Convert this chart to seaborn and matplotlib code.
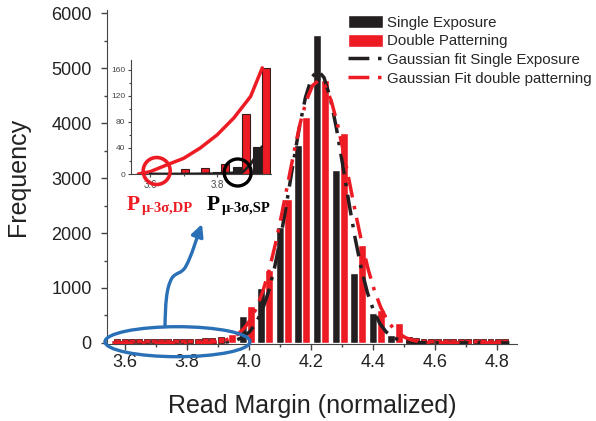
import numpy as np
import pandas as pd
import seaborn as sns
import matplotlib.pyplot as plt
from matplotlib.patches import Patch, Ellipse, FancyArrowPatch
from matplotlib.lines import Line2D
from matplotlib.path import Path
from matplotlib.transforms import Affine2D
from matplotlib.ticker import MultipleLocator

# Histogram bars (black = single exposure, red = double patterning)
se_x = [3.92, 3.98, 4.04, 4.10, 4.16, 4.22, 4.28, 4.34, 4.40, 4.46, 4.52]
se_n = [42, 490, 1000, 2110, 3600, 5600, 3150, 1270, 545, 150, 20]
dp_x = [3.945, 4.005, 4.065, 4.125, 4.185, 4.245, 4.305, 4.365, 4.425, 4.485]
dp_n = [170, 670, 1330, 2620, 4110, 4780, 3820, 1780, 600, 370]

# small red counts lying along the baseline
tail_x = [3.575, 3.599, 3.622, 3.646, 3.670, 3.693, 3.717, 3.740, 3.764, 3.788,
          3.811, 3.835, 3.858, 3.882, 3.910,
          4.515, 4.539, 4.563, 4.587, 4.611, 4.635, 4.659, 4.683, 4.707, 4.731,
          4.755, 4.779, 4.803, 4.827]
tail_n = [80, 80, 80, 80, 80, 80, 80, 80, 80, 80,
          80, 80, 85, 95, 115,
          110, 85, 80, 80, 80, 80, 80, 80, 80, 80,
          80, 80, 80, 80]

# Gaussian fits
se_fit_x = [3.56, 3.82, 3.862, 3.902, 3.922, 3.942, 3.962, 3.982, 4.002, 4.022,
            4.042, 4.062, 4.082, 4.102, 4.122, 4.142, 4.162, 4.182, 4.202, 4.222,
            4.242, 4.262, 4.282, 4.302, 4.322, 4.342, 4.362, 4.382, 4.402, 4.422,
            4.442, 4.462, 4.482, 4.502, 4.522, 4.542, 4.582, 4.84]
se_fit_y = [0, 0, 1, 6, 13, 28, 57, 110, 203, 353,
            584, 915, 1358, 1917, 2563, 3250, 3910, 4465, 4830, 4960,
            4830, 4465, 3910, 3250, 2563, 1917, 1358, 915, 584, 353,
            203, 110, 57, 28, 13, 6, 1, 0]
dp_fit_x = [3.56, 3.785, 3.845, 3.885, 3.905, 3.925, 3.945, 3.965, 3.985, 4.005,
            4.025, 4.045, 4.065, 4.085, 4.105, 4.125, 4.145, 4.165, 4.185, 4.205,
            4.225, 4.245, 4.265, 4.285, 4.305, 4.325, 4.345, 4.365, 4.385, 4.405,
            4.425, 4.445, 4.465, 4.485, 4.505, 4.525, 4.545, 4.565, 4.605, 4.665, 4.84]
dp_fit_y = [0, 0, 3, 15, 29, 53, 95, 163, 268, 425,
            647, 945, 1328, 1794, 2327, 2899, 3470, 3995, 4412, 4685,
            4780, 4685, 4412, 3995, 3470, 2899, 2327, 1794, 1328, 945,
            647, 425, 268, 163, 95, 53, 29, 15, 3, 0, 0]

# Inset: zoom on the left tail
ins_se_x = [3.62, 3.68, 3.74, 3.80, 3.86, 3.92]
ins_se_n = [1, 2, 2, 3, 11, 42]
ins_dp_x = [3.645, 3.705, 3.765, 3.825, 3.885, 3.945]
ins_dp_n = [2, 8, 9, 15, 92, 162]
ins_dpfit_x = [3.565, 3.60, 3.65, 3.70, 3.75, 3.80, 3.85, 3.90, 3.935]
ins_dpfit_y = [0, 3.5, 14, 24, 40, 60, 86, 119, 163]
ins_sefit_x = [3.60, 3.70, 3.80, 3.86, 3.878, 3.90, 3.934]
ins_sefit_y = [0, 0, 0.5, 2, 3.5, 15, 42]

labels = ['Single Exposure', 'Double Patterning',
          'Gaussian fit Single Exposure', 'Gaussian Fit double patterning']

BLACK = '#231f20'
RED = '#ed1c24'
BLUE = '#2a70b6'
DASH = (0, (6, 2.5, 1, 2.5))

sns.set_style('ticks')
plt.rcParams['font.family'] = ['Liberation Sans', 'DejaVu Sans']
plt.rcParams['axes.edgecolor'] = '#444444'
plt.rcParams['xtick.color'] = '#444444'
plt.rcParams['ytick.color'] = '#444444'

fig = plt.figure(figsize=(5.96, 4.21), dpi=100)
ax = fig.add_axes([107 / 596, 77 / 421, 410 / 596, 334 / 421])

ax.bar(se_x, se_n, width=0.027, color=BLACK, zorder=2)
ax.bar(dp_x, dp_n, width=0.026, color=RED, zorder=2)
ax.bar(tail_x, tail_n, width=0.019, color=RED, edgecolor='#5b1a1a',
       linewidth=0.6, zorder=2)

sns.lineplot(x=se_fit_x, y=se_fit_y, ax=ax, color=BLACK, lw=2.5, linestyle=DASH,
             estimator=None, sort=False, legend=False, zorder=4)
sns.lineplot(x=dp_fit_x, y=dp_fit_y, ax=ax, color=RED, lw=2.5, linestyle=DASH,
             estimator=None, sort=False, legend=False, zorder=4)

ax.set_xlim(3.542, 4.8645)
ax.set_ylim(-20, 6060)
ax.xaxis.set_major_locator(MultipleLocator(0.2))
ax.xaxis.set_minor_locator(MultipleLocator(0.1))
ax.yaxis.set_major_locator(MultipleLocator(1000))
ax.yaxis.set_minor_locator(MultipleLocator(500))
ax.xaxis.set_major_formatter(plt.FuncFormatter(lambda v, p: f'{v:.1f}'))
ax.tick_params(which='major', length=4, width=1, labelsize=13, labelcolor='#222222')
ax.tick_params(axis='y', which='major', pad=7)
ax.tick_params(which='minor', length=2.5, width=1)
sns.despine(ax=ax)
ax.set_xlabel('Read Margin (normalized)', fontsize=18, color='#222222', labelpad=16)
ax.set_ylabel('Frequency', fontsize=18, color='#222222', labelpad=15)

# legend
handles = [Patch(facecolor=BLACK), Patch(facecolor=RED),
           Line2D([], [], color=BLACK, lw=2.5, ls=DASH),
           Line2D([], [], color=RED, lw=2.5, ls=DASH)]
fig.legend(handles, labels, loc='upper left', bbox_to_anchor=(348 / 596, 1 - 15 / 421),
           frameon=False, fontsize=10.8, handlelength=2.3, handleheight=0.97,
           handletextpad=0.33, labelspacing=0.27, borderpad=0, borderaxespad=0)

# inset
axi = fig.add_axes([131 / 596, 247 / 421, 140 / 596, 114 / 421])
axi.bar(ins_se_x, ins_se_n, width=0.024, color=BLACK, edgecolor=BLACK, lw=0.8, zorder=2)
axi.bar(ins_dp_x, ins_dp_n, width=0.024, color=RED, edgecolor='#3a1a1a', lw=0.8, zorder=2)
sns.lineplot(x=ins_dpfit_x, y=ins_dpfit_y, ax=axi, color=RED, lw=2.5,
             estimator=None, sort=False, legend=False, zorder=3)
sns.lineplot(x=ins_sefit_x, y=ins_sefit_y, ax=axi, color=BLACK, lw=2,
             estimator=None, sort=False, legend=False, zorder=3)
axi.set_xlim(3.543, 3.961)
axi.set_ylim(0, 175)
axi.set_facecolor('none')
axi.xaxis.set_major_locator(MultipleLocator(0.2))
axi.xaxis.set_minor_locator(MultipleLocator(0.1))
axi.yaxis.set_major_locator(MultipleLocator(40))
axi.yaxis.set_minor_locator(MultipleLocator(20))
axi.xaxis.set_major_formatter(plt.FuncFormatter(lambda v, p: f'{v:.1f}'))
axi.tick_params(which='major', length=2.5, width=0.8, labelsize=7, pad=1.5)
axi.tick_params(axis='y', which='major', labelsize=6)
axi.tick_params(which='minor', length=1.5, width=0.8)
sns.despine(ax=axi)

# annotations in pixel coordinates (y from the top)
px = Affine2D().scale(1 / 596, -1 / 421).translate(0, 1) + fig.transFigure
fig.add_artist(Ellipse((156.7, 171), 27, 27, transform=px, fill=False, ec=RED, lw=2.6))
fig.add_artist(Ellipse((237.7, 172.5), 27, 27, transform=px, fill=False, ec='black', lw=2.4))
fig.add_artist(Ellipse((177.5, 341.7), 145, 30, transform=px, fill=False, ec=BLUE, lw=2.4))

serif = ['Liberation Serif', 'DejaVu Serif']
fig.text(127, 210, 'P', transform=px, color=RED, fontsize=15.5, fontweight='bold', family=serif)
fig.text(141.5, 212, 'μ-3σ,DP', transform=px, color=RED, fontsize=10.5, fontweight='bold', family=serif)
fig.text(207, 210, 'P', transform=px, color='black', fontsize=15.5, fontweight='bold', family=serif)
fig.text(221.5, 212, 'μ-3σ,SP', transform=px, color='black', fontsize=10.5, fontweight='bold', family=serif)

verts = [(165, 326), (165.5, 305), (166, 288), (172, 278),
         (176, 272), (182, 274), (186, 266),
         (192, 255), (196, 240), (202, 224)]
codes = [Path.MOVETO] + [Path.CURVE4] * 9
arrow = FancyArrowPatch(path=Path(verts, codes), transform=px, arrowstyle='-|>',
                        mutation_scale=18, color=BLUE, lw=2.4)
fig.add_artist(arrow)

fig.savefig('out.png', dpi=100)
